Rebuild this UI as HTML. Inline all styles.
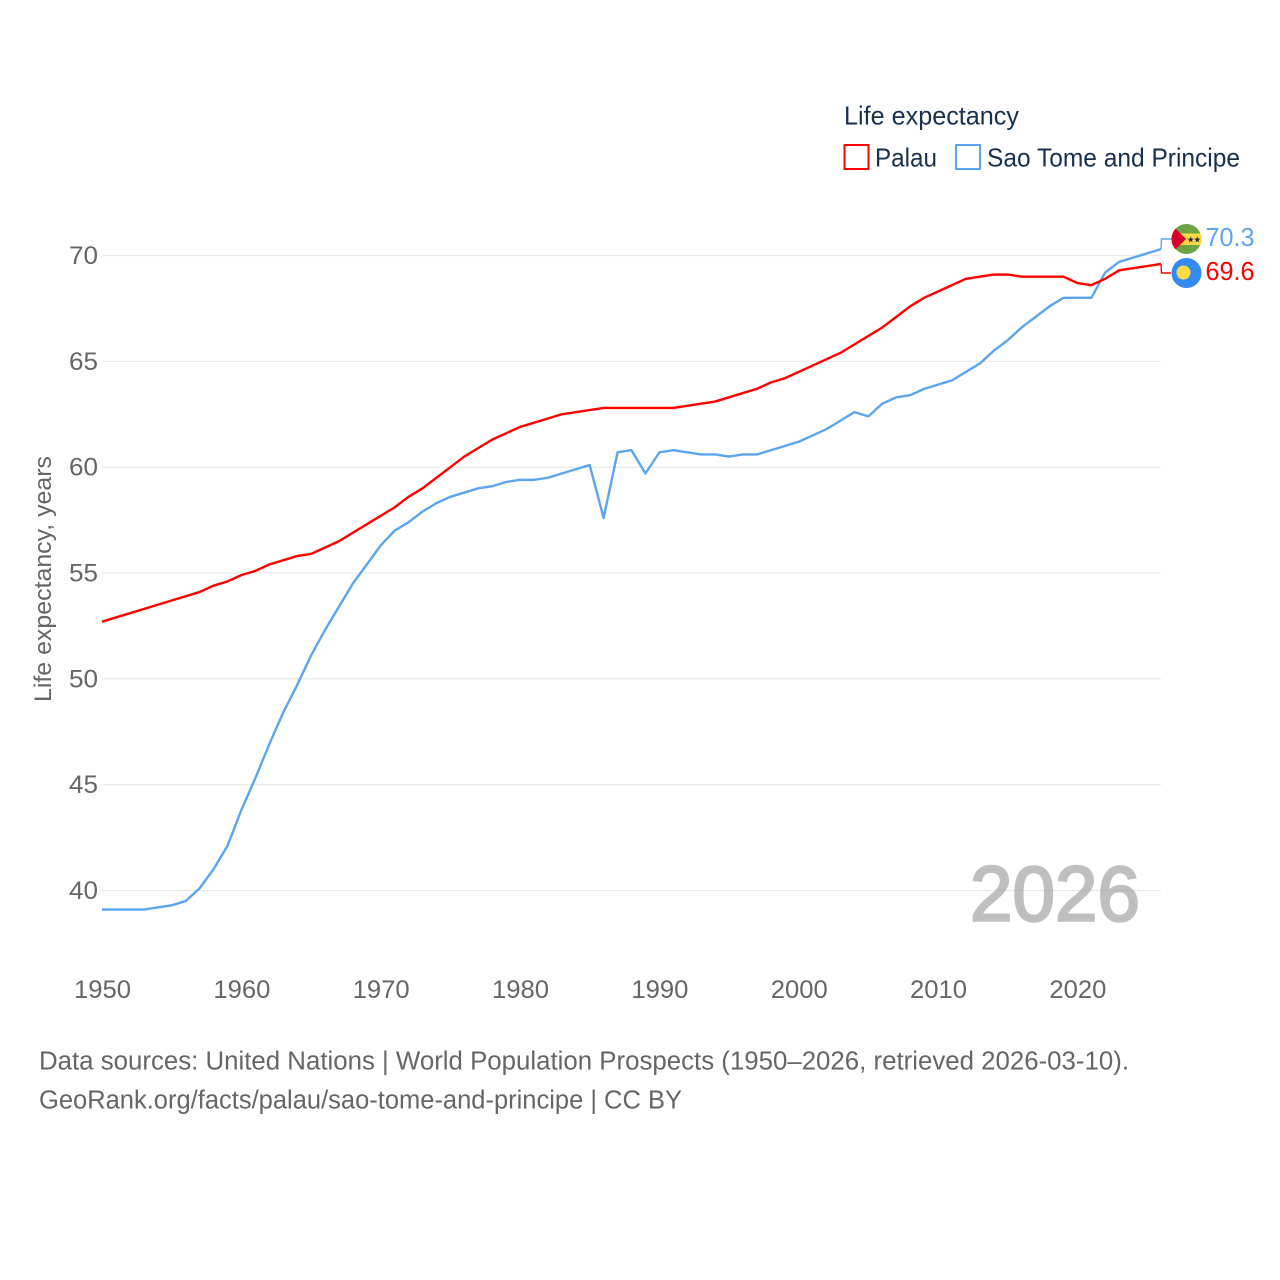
<!DOCTYPE html>
<html lang="en">
<head>
<meta charset="utf-8">
<title>Life expectancy: Palau and Sao Tome and Principe</title>
<style>
html,body{margin:0;padding:0;background:#fff;}
svg{display:block;}
text{font-family:"Liberation Sans",sans-serif;}
</style>
</head>
<body>
<svg id="chart" xmlns="http://www.w3.org/2000/svg" width="1280" height="1280" viewBox="0 0 1280 1280">
  <rect width="1280" height="1280" fill="#fff"/>
  <g id="grid"></g>
  <g id="yticks"></g>
  <g id="xticks"></g>
  <text transform="translate(51,702) rotate(-90)" font-size="24.5" fill="#666" textLength="246" lengthAdjust="spacingAndGlyphs">Life expectancy, years</text>

  <text x="844" y="124.5" font-size="26" fill="#18314f" textLength="175" lengthAdjust="spacingAndGlyphs">Life expectancy</text>
  <g>
    <rect x="844.5" y="145" width="24" height="24" fill="none" stroke="#ff0000" stroke-width="2"/>
    <text x="875" y="166.5" font-size="26" fill="#18314f" textLength="62" lengthAdjust="spacingAndGlyphs">Palau</text>
  </g>
  <g>
    <rect x="956" y="145" width="24" height="24" fill="none" stroke="#5da5ee" stroke-width="2"/>
    <text x="987" y="166.5" font-size="26" fill="#18314f" textLength="253" lengthAdjust="spacingAndGlyphs">Sao Tome and Principe</text>
  </g>

  <text x="970" y="920.5" font-size="78" fill="#999" stroke="#999" stroke-width="2.4" opacity="0.62" textLength="170" lengthAdjust="spacingAndGlyphs">2026</text>

  <g id="series"></g>

  <g>
    <clipPath id="stp-clip"><circle cx="1186.5" cy="239" r="15"/></clipPath>
    <g clip-path="url(#stp-clip)">
      <rect x="1171" y="224" width="31" height="31" fill="#6da544"/>
      <rect x="1171" y="233.5" width="31" height="11.5" fill="#ffda44"/>
      <path d="M1171 224 L1186 239 L1171 254 Z" fill="#d80027"/>
      <polygon points="1190.7,236.2 1191.5,238.6 1194,238.6 1192,240.1 1192.8,242.5 1190.7,241 1188.6,242.5 1189.4,240.1 1187.4,238.6 1189.9,238.6" fill="#1d2c44"/>
      <polygon points="1197.3,236.2 1198.1,238.6 1200.6,238.6 1198.6,240.1 1199.4,242.5 1197.3,241 1195.2,242.5 1196,240.1 1194,238.6 1196.5,238.6" fill="#1d2c44"/>
    </g>
  </g>
  <g>
    <circle cx="1186.5" cy="273" r="15" fill="#338af3"/>
    <circle cx="1183.5" cy="272.5" r="7" fill="#ffda44"/>
  </g>

  <text x="39" y="1069.5" font-size="25.5" fill="#666" textLength="1090" lengthAdjust="spacingAndGlyphs">Data sources: United Nations | World Population Prospects (1950–2026, retrieved 2026-03-10).</text>
  <text x="39" y="1108.5" font-size="25.5" fill="#666" textLength="643" lengthAdjust="spacingAndGlyphs">GeoRank.org/facts/palau/sao-tome-and-principe | CC BY</text>
</svg>
<script>
const startYear = 1950;
const xTickLabels = [1950,1960,1970,1980,1990,2000,2010,2020];
const yTickLabels = [40,45,50,55,60,65,70];
const palauValues = [52.7,52.9,53.1,53.3,53.5,53.7,53.9,54.1,54.4,54.6,54.9,55.1,55.4,55.6,55.8,55.9,56.2,56.5,56.9,57.3,57.7,58.1,58.6,59.0,59.5,60.0,60.5,60.9,61.3,61.6,61.9,62.1,62.3,62.5,62.6,62.7,62.8,62.8,62.8,62.8,62.8,62.8,62.9,63.0,63.1,63.3,63.5,63.7,64.0,64.2,64.5,64.8,65.1,65.4,65.8,66.2,66.6,67.1,67.6,68.0,68.3,68.6,68.9,69.0,69.1,69.1,69.0,69.0,69.0,69.0,68.7,68.6,68.9,69.3,69.4,69.5,69.6];
const saoTomeValues = [39.1,39.1,39.1,39.1,39.2,39.3,39.5,40.1,41.0,42.1,43.8,45.3,46.9,48.4,49.7,51.1,52.3,53.4,54.5,55.4,56.3,57.0,57.4,57.9,58.3,58.6,58.8,59.0,59.1,59.3,59.4,59.4,59.5,59.7,59.9,60.1,57.6,60.7,60.8,59.7,60.7,60.8,60.7,60.6,60.6,60.5,60.6,60.6,60.8,61.0,61.2,61.5,61.8,62.2,62.6,62.4,63.0,63.3,63.4,63.7,63.9,64.1,64.5,64.9,65.5,66.0,66.6,67.1,67.6,68.0,68.0,68.0,69.2,69.7,69.9,70.1,70.3];

const NS = 'http://www.w3.org/2000/svg';
const xScale = function (year) { return 102 + (year - 1950) * (1161 - 102) / 76; };
const yScale = function (v) { return 890.5 - (v - 40) * (890.5 - 255.5) / 30; };
const toPoints = function (vals) {
  return vals.map(function (v, i) {
    return xScale(startYear + i).toFixed(2) + ',' + yScale(v).toFixed(2);
  }).join(' ');
};
const make = function (tag, attrs, parent, txt) {
  const el = document.createElementNS(NS, tag);
  Object.keys(attrs).forEach(function (k) { el.setAttribute(k, attrs[k]); });
  if (txt !== undefined) el.textContent = txt;
  parent.appendChild(el);
  return el;
};

const grid = document.getElementById('grid');
const yticks = document.getElementById('yticks');
const xticks = document.getElementById('xticks');
const series = document.getElementById('series');
const root = document.getElementById('chart');

yTickLabels.forEach(function (t) {
  const line = make('line', {x1: 102, x2: 1161, y1: yScale(t), y2: yScale(t), stroke: '#e9e9e9', 'stroke-width': 1.2}, grid);
  
  
  const label = make('text', {x: 98, y: yScale(t) + 8.5, 'font-size': 25, fill: '#666', 'text-anchor': 'end', textLength: 29, lengthAdjust: 'spacingAndGlyphs'}, yticks, String(t));
  
  
});

xTickLabels.forEach(function (t) {
  const label = make('text', {x: xScale(t) + 0.5, y: 998, 'font-size': 25, fill: '#666', 'text-anchor': 'middle', textLength: 57, lengthAdjust: 'spacingAndGlyphs'}, xticks, String(t));
  
  
});

const lineStp = make('polyline', {points: toPoints(saoTomeValues), fill: 'none', stroke: '#5da5ee', 'stroke-width': 2.4, 'stroke-linejoin': 'round'}, series);



const linePalau = make('polyline', {points: toPoints(palauValues), fill: 'none', stroke: '#ff0000', 'stroke-width': 2.4, 'stroke-linejoin': 'round'}, series);



const lastStp = saoTomeValues[saoTomeValues.length - 1];
const lastPalau = palauValues[palauValues.length - 1];

const connStp = make('polyline', {points: '1161,' + yScale(lastStp).toFixed(1) + ' 1161.5,239 1172,239', fill: 'none', stroke: '#5da5ee', 'stroke-width': 1.4}, series);



const connPalau = make('polyline', {points: '1161,' + yScale(lastPalau).toFixed(1) + ' 1161.5,273 1171,273', fill: 'none', stroke: '#ff0000', 'stroke-width': 1.4}, series);



const valueStp = make('text', {x: 1205.5, y: 246, 'font-size': 26, fill: '#5da5ee', textLength: 49, lengthAdjust: 'spacingAndGlyphs'}, root, lastStp.toFixed(1));



const valuePalau = make('text', {x: 1205.5, y: 280, 'font-size': 26, fill: '#ff0000', textLength: 49, lengthAdjust: 'spacingAndGlyphs'}, root, lastPalau.toFixed(1));


</script>
</body>
</html>
